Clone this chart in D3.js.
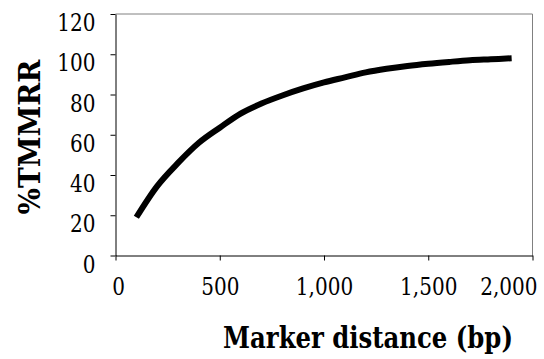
<!DOCTYPE html>
<html>
<head>
<meta charset="utf-8">
<script src="https://cdn.jsdelivr.net/npm/d3@7"></script>
<style>
  html, body { margin: 0; padding: 0; background: #fff; }
  svg { display: block; }
  svg text { font-family: "DejaVu Serif", "Times New Roman", serif; fill: #000; }
</style>
</head>
<body>
<svg id="chart" width="544" height="359"></svg>
<script>
// Marker distance (bp) and the matching %TMMRR values
const distances = [100, 200, 300, 400, 500, 600, 700, 800, 900, 1000,
                   1100, 1200, 1300, 1400, 1500, 1600, 1700, 1800, 1900];
const tmmrr = [19, 34.5, 46, 56, 63.5, 70.5, 75.5, 79.5, 83, 86,
               88.5, 91, 92.8, 94.2, 95.3, 96.2, 97, 97.5, 98];
const xTicks = [0, 500, 1000, 1500, 2000];
const yTicks = [0, 20, 40, 60, 80, 100, 120];

const svg = d3.select("#chart");
const plot = { left: 115.5, right: 532.5, top: 14, bottom: 255.5 };

const x = d3.scaleLinear().domain([0, 2000]).range([plot.left, plot.right]);
const y = d3.scaleLinear().domain([0, 120]).range([plot.bottom, plot.top]);

// narrow-serif label widths: digits 0.5em, comma 0.25em
const tickEm = 25.5;
const labelWidth = s => [...s].reduce((w, c) => w + (c === "," ? 0.25 : 0.5), 0) * tickEm;

// squeeze a text horizontally to a target width, keeping its anchor point
function squeeze(sel, widthFn, prefix = "") {
  sel.each(function (d) {
    const t = d3.select(this);
    const sx = widthFn(d) / this.getComputedTextLength();
    const x0 = +t.attr("x") || 0;
    t.attr("x", x0 / sx).attr("transform", `${prefix} scale(${sx},1)`);
  });
}

// plot-area border (top and right)
svg.append("path")
  .attr("d", `M${plot.left},${plot.top}H${plot.right}V${plot.bottom}`)
  .attr("fill", "none")
  .attr("stroke", "#808080")
  .attr("stroke-width", 1);

// y axis
const yAxis = svg.append("g")
  .attr("transform", `translate(${plot.left},0)`)
  .call(d3.axisLeft(y).tickValues(yTicks).tickSize(5).tickPadding(15).tickSizeOuter(0));
yAxis.attr("font-family", null).attr("font-size", null);
yAxis.select(".domain").attr("stroke", "#000");
yAxis.selectAll(".tick line").attr("stroke", "#000");
yAxis.selectAll(".tick text")
  .style("font-size", "24px")
  .attr("dy", 16.5)
  .call(squeeze, d => labelWidth(String(d)));

// x axis
const fmt = d3.format(",");
const xAxis = svg.append("g")
  .attr("transform", `translate(0,${plot.bottom})`)
  .call(d3.axisBottom(x).tickValues(xTicks).tickSize(5).tickFormat(fmt).tickSizeOuter(0));
xAxis.attr("font-family", null).attr("font-size", null);
xAxis.select(".domain").attr("stroke", "#000");
xAxis.selectAll(".tick line").attr("stroke", "#000");
const xLabels = xAxis.selectAll(".tick text")
  .style("font-size", "24px")
  .attr("y", 39.5)
  .attr("dy", 0);
// first label nudged right, last label kept inside the frame
xLabels.filter(d => d === 0).attr("x", 2.5);
xLabels.filter(d => d === 2000)
  .attr("text-anchor", "end")
  .attr("x", 537 - x(2000));
xLabels.call(squeeze, d => labelWidth(fmt(d)));

// curve
const line = d3.line()
  .x((d, i) => x(distances[i]))
  .y(d => y(d))
  .curve(d3.curveMonotoneX);
svg.append("path")
  .datum(tmmrr)
  .attr("d", line)
  .attr("fill", "none")
  .attr("stroke", "#000")
  .attr("stroke-width", 6)
  .attr("stroke-linejoin", "round")
  .attr("stroke-linecap", "butt");

// axis titles
svg.append("text")
  .attr("x", 368)
  .attr("y", 348)
  .attr("text-anchor", "middle")
  .style("font-weight", "bold")
  .style("font-size", "29px")
  .text("Marker distance (bp)")
  .call(squeeze, () => 290);

svg.append("text")
  .attr("x", -137)
  .attr("y", 40)
  .attr("text-anchor", "middle")
  .style("font-weight", "bold")
  .style("font-size", "29px")
  .text("%TMMRR")
  .call(squeeze, () => 155, "rotate(-90)");
</script>
</body>
</html>
